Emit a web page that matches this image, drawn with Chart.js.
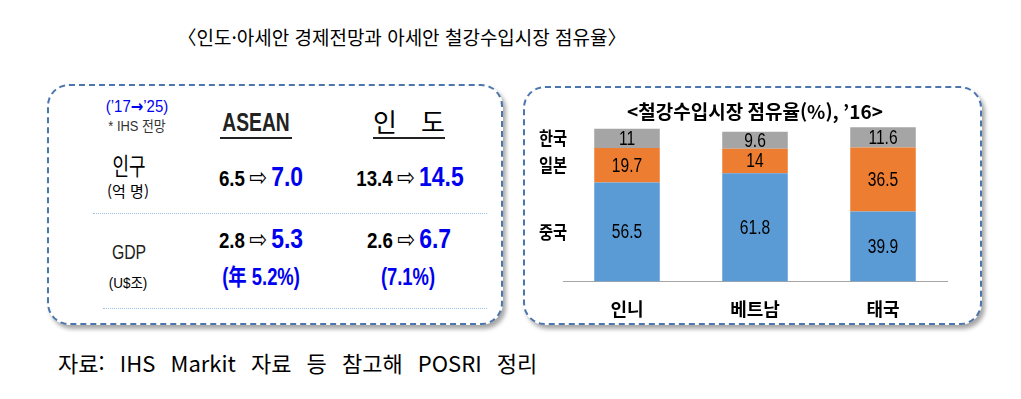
<!DOCTYPE html>
<html lang="ko">
<head>
<meta charset="utf-8">
<script src="https://cdn.jsdelivr.net/npm/chart.js@4.4.1/dist/chart.umd.min.js"></script>
<style>
  body { margin: 0; width: 1021px; height: 399px; background: #fff; position: relative; overflow: hidden; font-family: 'Noto Sans CJK KR', sans-serif; }
  .box { position: absolute; border: 2px dashed #4a76ad; border-radius: 22px; box-shadow: 3px 4px 4px rgba(0,0,0,0.35); background: #fff; box-sizing: border-box; }
  .t { position: absolute; transform: translate(-50%, -50%); white-space: nowrap; line-height: 1; }
  .num { font-family: 'Liberation Sans', 'Noto Sans CJK KR', sans-serif; font-weight: bold; }
  .blue { color: #0000f0; }
  .arr { font-family: 'DejaVu Sans', sans-serif; font-size: 25px; font-weight: normal; margin: 0 5px 0 5px; }
  .line { position: absolute; height: 0; }
  #chartWrap { position: absolute; left: 523px; top: 86px; width: 459px; height: 257px; }
</style>
</head>
<body>
<div class="t" style="left:402px; top:36px; font-size:19px;">〈인도·아세안 경제전망과 아세안 철강수입시장 점유율〉</div>

<div class="box" style="left:47px; top:84px; width:456px; height:241px;"></div>
<div class="box" style="left:523px; top:86px; width:459px; height:239px;"></div>

<div id="table">
  <div class="t num blue" style="left:137px; top:106px; font-size:17px; font-weight:normal; transform:translate(-50%,-50%) scaleX(0.88);">(’17<span style="font-family:'DejaVu Sans'; font-weight:bold;">→</span>’25)</div>
  <div class="t num" style="left:137px; top:126px; font-size:14px; font-weight:normal; color:#333; transform:translate(-50%,-50%) scaleX(0.92);">* IHS 전망</div>
  <div class="t num" style="left:256px; top:122px; font-size:26px; color:#222; transform:translate(-50%,-50%) scaleX(0.74);">ASEAN</div>
  <div class="line" style="left:220px; top:137px; width:72px; border-top:2px solid #222;"></div>
  <div class="t" style="left:385px; top:121px; font-size:26px;">인</div>
  <div class="t" style="left:433px; top:121px; font-size:26px;">도</div>
  <div class="line" style="left:373px; top:137px; width:72px; border-top:2px solid #222;"></div>

  <div class="t" style="left:129px; top:165px; font-size:24px; transform:translate(-50%,-50%) scaleX(0.75);">인구</div>
  <div class="t" style="left:128px; top:190px; font-size:15px;">(억 명)</div>
  <div class="t num" style="left:261px; top:177px; font-size:22px; transform:translate(-50%,-50%) scaleX(0.85);">6.5<span class="arr">⇨</span><span class="blue" style="font-size:27px;">7.0</span></div>
  <div class="t num" style="left:410px; top:177px; font-size:22px; transform:translate(-50%,-50%) scaleX(0.85);">13.4<span class="arr">⇨</span><span class="blue" style="font-size:27px;">14.5</span></div>

  <div class="line" style="left:93px; top:213px; width:394px; border-top:1px dotted #9dc3e6;"></div>

  <div class="t num" style="left:129px; top:252px; font-size:20px; font-weight:normal; color:#222; transform:translate(-50%,-50%) scaleX(0.79);">GDP</div>
  <div class="t num" style="left:128px; top:282px; font-size:15px; font-weight:normal; transform:translate(-50%,-50%) scaleX(0.9);">(U$조)</div>
  <div class="t num" style="left:261px; top:239px; font-size:22px; transform:translate(-50%,-50%) scaleX(0.85);">2.8<span class="arr">⇨</span><span class="blue" style="font-size:27px;">5.3</span></div>
  <div class="t num" style="left:409px; top:239px; font-size:22px; transform:translate(-50%,-50%) scaleX(0.85);">2.6<span class="arr">⇨</span><span class="blue" style="font-size:27px;">6.7</span></div>
  <div class="t num blue" style="left:261px; top:277px; font-size:23px; transform:translate(-50%,-50%) scaleX(0.8);">(年 5.2%)</div>
  <div class="t num blue" style="left:408px; top:277px; font-size:23px; transform:translate(-50%,-50%) scaleX(0.8);">(7.1%)</div>

  <div class="line" style="left:103px; top:308px; width:384px; border-top:1px dotted #9dc3e6;"></div>
</div>

<div id="chartWrap"><canvas id="shareChart" width="459" height="257"></canvas></div>

<div style="position:absolute; left:58px; top:349px; font-size:22px; line-height:1.2; word-spacing:9px;">자료: IHS Markit 자료 등 참고해 POSRI 정리</div>

<script>
const categories = ['인니', '베트남', '태국'];
const seriesNames = ['중국', '일본', '한국'];
const china = [56.5, 61.8, 39.9];
const japan = [19.7, 14, 36.5];
const korea = [11, 9.6, 11.6];
const colors = ['#5b9bd5', '#ed7d31', '#a5a5a5'];

// 글씨를 가로로 좁혀서 그리기 (원본은 좁은 글꼴)
function narrowText(ctx, text, x, y, sx) {
  ctx.save();
  ctx.translate(x, y);
  ctx.scale(sx, 1);
  ctx.fillText(text, 0, 0);
  ctx.restore();
}

// 막대 안 숫자 + 왼쪽 국가명
const labelPlugin = {
  id: 'labelPlugin',
  afterDatasetsDraw(chart) {
    const ctx = chart.ctx;
    ctx.save();
    ctx.textAlign = 'center';
    ctx.textBaseline = 'middle';
    ctx.fillStyle = '#000';
    chart.data.datasets.forEach((ds, i) => {
      const meta = chart.getDatasetMeta(i);
      ctx.font = '20px "Liberation Sans", sans-serif';
      meta.data.forEach((bar, j) => {
        narrowText(ctx, String(ds.data[j]), bar.x, (bar.y + bar.base) / 2 + 1, 0.78);
      });
      const first = meta.data[0];
      ctx.font = 'bold 18px "Noto Sans CJK KR", sans-serif';
      narrowText(ctx, seriesNames[i], 30, (first.y + first.base) / 2, 0.85);
    });
    ctx.restore();
  }
};

function renderShareChart() {
  const ctx = document.getElementById('shareChart').getContext('2d');
  new Chart(ctx, {
    type: 'bar',
    data: {
      labels: categories,
      datasets: [
        { label: seriesNames[0], data: china, backgroundColor: colors[0] },
        { label: seriesNames[1], data: japan, backgroundColor: colors[1] },
        { label: seriesNames[2], data: korea, backgroundColor: colors[2] }
      ]
    },
    options: {
      responsive: false,
      animation: false,
      layout: { padding: { left: 40, right: 35, top: 0, bottom: 6 } },
      datasets: { bar: { categoryPercentage: 1, barPercentage: 0.512 } },
      plugins: {
        legend: { display: false },
        tooltip: { enabled: false },
        title: {
          display: true,
          text: '<철강수입시장 점유율(%), ’16>',
          color: '#000',
          font: { family: 'Noto Sans CJK KR', size: 19, weight: 'bold' },
          padding: { top: 14, bottom: 1 }
        }
      },
      scales: {
        x: {
          stacked: true,
          grid: { display: false, drawTicks: false },
          border: { display: true, color: '#a6a6a6', width: 1 },
          ticks: { color: '#000', padding: 17, font: { family: 'Noto Sans CJK KR', size: 18, weight: 'bold' } }
        },
        y: {
          stacked: true,
          display: false,
          min: 0,
          max: 90
        }
      }
    },
    plugins: [labelPlugin]
  });
}

renderShareChart();
</script>
</body>
</html>
